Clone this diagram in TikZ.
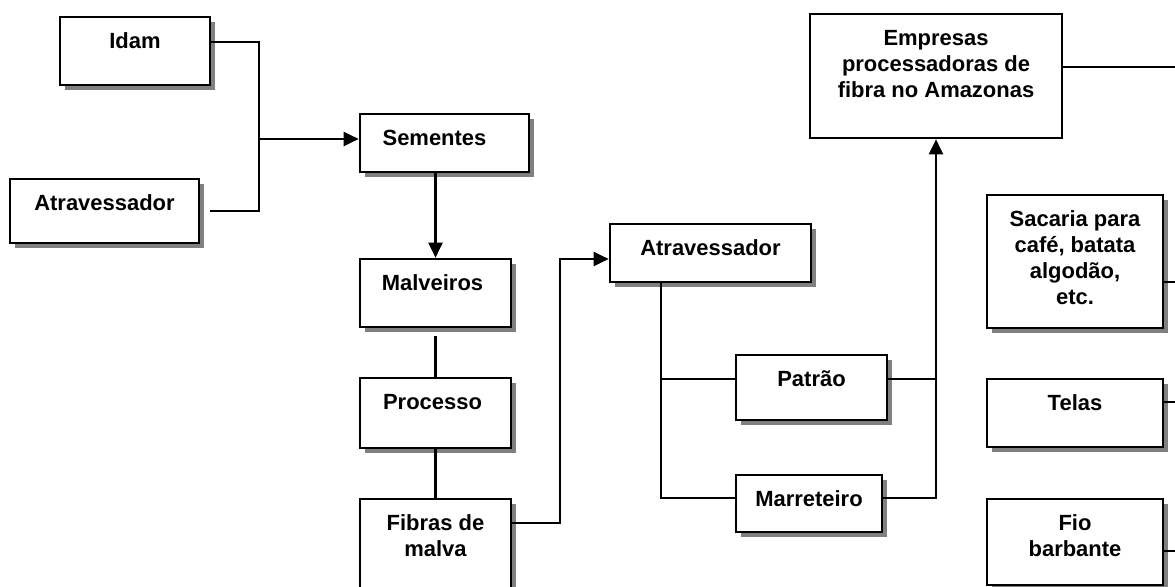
\documentclass[tikz,border=0pt]{standalone}
\usepackage{fontspec}
\setmainfont{Liberation Sans}
\usetikzlibrary{
	arrows.meta,
	shadows,
	positioning,
	}

\begin{document}
\begin{tikzpicture}[
	box/.style={draw,fill=white,line width=1.5pt,inner sep=0pt},
	sbox/.style={box,drop shadow={shadow xshift=0.1cm,shadow yshift=-0.1cm,fill=gray,opacity=1}},
	txt/.style={anchor=north,inner sep=0pt,align=center,font=\fontsize{12.5pt}{14.8pt}\selectfont\bfseries},
	conn/.style={line width=1.2pt},
	arr/.style={conn,-{Triangle[length=0.3cm,width=0.28cm]}},
	]
\useasboundingbox (0,0) rectangle (23.5,-11.72);
\coordinate (edge) at (23.5,0);
\node[sbox,minimum width=3cm,minimum height=1.36cm] (idam) at (2.7,-1.02) {};
\node[sbox,minimum width=3.78cm,minimum height=1.28cm] (atrav1) at (2.09,-4.22) {};
\node[sbox,minimum width=3.38cm,minimum height=1.16cm] (sementes) at (8.89,-2.86) {};
\node[sbox,minimum width=3.02cm,minimum height=1.36cm] (malveiros) at (8.71,-5.86) {};
\node[sbox,minimum width=3.02cm,minimum height=1.4cm] (processo) at (8.71,-8.26) {};
\node[sbox,minimum width=3.02cm,minimum height=2.22cm] (fibras) at (8.71,-11.09) {};
\node[sbox,minimum width=4.02cm,minimum height=1.16cm] (atrav2) at (14.21,-5.06) {};
\node[sbox,minimum width=3.02cm,minimum height=1.3cm] (patrao) at (16.23,-7.75) {};
\node[sbox,minimum width=2.92cm,minimum height=1.14cm] (marreteiro) at (16.18,-10.07) {};
\node[box,minimum width=5.04cm,minimum height=2.48cm] (empresas) at (18.72,-1.52) {};
\node[sbox,minimum width=3.52cm,minimum height=2.66cm] (sacaria) at (21.5,-5.23) {};
\node[sbox,minimum width=3.52cm,minimum height=1.36cm] (telas) at (21.5,-8.26) {};
\node[sbox,minimum width=3.52cm,minimum height=1.72cm] (fio) at (21.5,-10.84) {};
\node[txt] (idam-t) at ([yshift=-0.34cm]idam.north) {Idam};
\node[txt] (atrav1-t) at ([yshift=-0.34cm]atrav1.north) {Atravessador};
\node[txt] (sementes-t) at ([xshift=-0.2cm,yshift=-0.34cm]sementes.north) {Sementes};
\node[txt] (malveiros-t) at ([xshift=-0.06cm,yshift=-0.34cm]malveiros.north) {Malveiros};
\node[txt] (processo-t) at ([xshift=-0.06cm,yshift=-0.34cm]processo.north) {Processo};
\node[txt] (fibras-t) at ([yshift=-0.34cm]fibras.north) {Fibras de\\malva};
\node[txt] (atrav2-t) at ([yshift=-0.34cm]atrav2.north) {Atravessador};
\node[txt] (patrao-t) at ([yshift=-0.34cm]patrao.north) {Patrão};
\node[txt] (marreteiro-t) at ([yshift=-0.34cm]marreteiro.north) {Marreteiro};
\node[txt] (empresas-t) at ([yshift=-0.34cm]empresas.north) {Empresas\\processadoras de\\fibra no Amazonas};
\node[txt] (sacaria-t) at ([yshift=-0.34cm]sacaria.north) {Sacaria para\\café, batata\\algodão,\\etc.};
\node[txt] (telas-t) at ([yshift=-0.34cm]telas.north) {Telas};
\node[txt] (fio-t) at ([yshift=-0.34cm]fio.north) {Fio\\barbante};
% seeds
\coordinate (j1) at (5.18,-2.78);
\draw[conn] ([yshift=0.18cm]idam.east) -| (j1) |- ([xshift=0.2cm]atrav1.east);
\draw[arr] (j1) -- (j1 -| sementes.west);
\draw[arr] (malveiros.north |- sementes.south) -- (malveiros.north);
\draw[conn] ([yshift=-0.16cm]malveiros.south) -- (processo.north);
\draw[conn] (processo.south) -- (fibras.north);
\coordinate (j2) at (11.2,-10.46);
\draw[arr] (fibras.east |- j2) -- (j2) |- ([yshift=-0.12cm]atrav2.west);
% fibre trade
\coordinate (j3) at (13.22,-7.58);
\coordinate (j4) at (13.22,-9.96);
\draw[conn] (j3 |- atrav2.south) -- (j4) -- (j4 -| marreteiro.west);
\draw[conn] (j3) -- (j3 -| patrao.west);
\draw[conn] (j3 -| patrao.east) -- (j3 -| empresas.south);
\draw[arr] (j4 -| marreteiro.east) -- (j4 -| empresas.south) -- (empresas.south);
\foreach \n/\s in {empresas/0.18,sacaria/-0.41,telas/0.22,fio/-0.18} {
	\coordinate (o) at ([yshift=\s cm]\n.east);
	\draw[conn] (o) -- (o -| edge);
}
\end{tikzpicture}
\end{document}
